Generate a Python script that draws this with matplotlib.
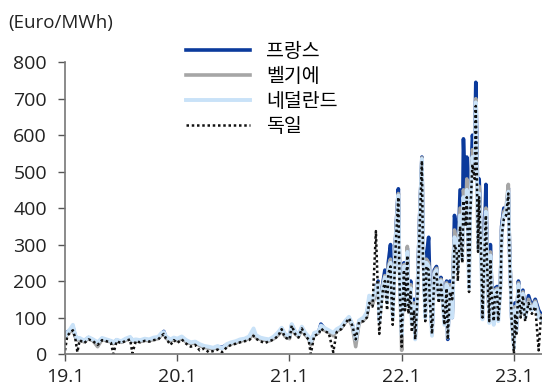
import matplotlib
matplotlib.use("Agg")
import matplotlib.pyplot as plt

plt.rcParams['font.family'] = ['Open Sans', 'Noto Sans CJK KR', 'DejaVu Sans']

# decimal year, France, Belgium, Netherlands, Germany
t = [2019.00, 2019.02, 2019.05, 2019.07, 2019.09, 2019.11, 2019.13, 2019.17, 2019.21, 2019.25,
     2019.29, 2019.33, 2019.37, 2019.41, 2019.43, 2019.46, 2019.50, 2019.54, 2019.58, 2019.60,
     2019.63, 2019.67, 2019.71, 2019.75, 2019.79, 2019.83, 2019.86, 2019.88, 2019.90, 2019.94,
     2019.97, 2020.00, 2020.04, 2020.08, 2020.12, 2020.16, 2020.20, 2020.24, 2020.28, 2020.32,
     2020.36, 2020.40, 2020.44, 2020.48, 2020.52, 2020.56, 2020.60, 2020.64, 2020.68, 2020.70,
     2020.74, 2020.78, 2020.82, 2020.86, 2020.90, 2020.93, 2020.96, 2021.00, 2021.02, 2021.05,
     2021.08, 2021.11, 2021.14, 2021.17, 2021.19, 2021.22, 2021.26, 2021.28, 2021.31, 2021.35,
     2021.39, 2021.42, 2021.46, 2021.50, 2021.53, 2021.56, 2021.59, 2021.62, 2021.66, 2021.69,
     2021.71, 2021.74, 2021.77, 2021.79, 2021.80, 2021.83, 2021.85, 2021.87, 2021.88, 2021.90,
     2021.91, 2021.92, 2021.94, 2021.95, 2021.97, 2021.98, 2022.00, 2022.01, 2022.02, 2022.03,
     2022.05, 2022.06, 2022.08, 2022.09, 2022.11, 2022.12, 2022.14, 2022.16, 2022.18, 2022.19,
     2022.21, 2022.22, 2022.24, 2022.25, 2022.27, 2022.29, 2022.31, 2022.33, 2022.35, 2022.36,
     2022.38, 2022.40, 2022.41, 2022.43, 2022.45, 2022.46, 2022.47, 2022.49, 2022.50, 2022.52,
     2022.54, 2022.55, 2022.57, 2022.58, 2022.60, 2022.61, 2022.63, 2022.65, 2022.66, 2022.68,
     2022.69, 2022.71, 2022.72, 2022.74, 2022.75, 2022.76, 2022.78, 2022.79, 2022.80, 2022.82,
     2022.83, 2022.85, 2022.86, 2022.88, 2022.89, 2022.91, 2022.93, 2022.95, 2022.96, 2022.98,
     2023.00, 2023.01, 2023.02, 2023.04, 2023.06, 2023.08, 2023.10, 2023.13, 2023.16, 2023.19,
     2023.22, 2023.24, 2023.25]

france = [50, 60, 65, 75, 50, 40, 42, 35, 45, 38,
          30, 42, 38, 35, 30, 38, 33, 40, 45, 36,
          38, 35, 40, 38, 42, 45, 55, 62, 45, 38,
          42, 38, 45, 35, 30, 32, 25, 20, 18, 15,
          20, 18, 25, 30, 32, 38, 40, 45, 60, 48,
          42, 40, 38, 45, 55, 70, 50, 45, 80, 60,
          50, 72, 55, 45, 30, 55, 60, 82, 70, 62,
          55, 65, 72, 90, 100, 80, 35, 90, 95, 110,
          150, 140, 175, 200, 100, 190, 230, 160, 250, 300,
          200, 120, 280, 350, 453, 250, 60, 180, 250, 150,
          290, 150, 200, 100, 150, 50, 180, 380, 540, 300,
          120, 270, 320, 200, 60, 230, 240, 170, 210, 180,
          100, 200, 40, 200, 100, 230, 380, 340, 250, 450,
          300, 590, 400, 540, 280, 420, 600, 550, 745, 380,
          480, 300, 100, 350, 465, 280, 90, 300, 200, 100,
          180, 185, 110, 200, 350, 400, 380, 455, 300, 100,
          30, 140, 60, 200, 120, 175, 110, 160, 130, 150,
          120, 110, 105]

belgium = [45, 55, 62, 70, 48, 38, 40, 33, 43, 36,
           20, 40, 36, 33, 28, 36, 32, 38, 42, 35,
           36, 34, 38, 36, 40, 42, 52, 58, 43, 36,
           40, 36, 42, 33, 28, 30, 23, 18, 16, 14,
           18, 16, 22, 28, 30, 35, 38, 42, 55, 45,
           40, 38, 36, 42, 52, 65, 48, 42, 75, 55,
           48, 68, 52, 42, 25, 52, 58, 75, 65, 60,
           50, 62, 70, 88, 95, 75, 20, 85, 92, 105,
           145, 135, 170, 195, 95, 185, 215, 150, 240, 260,
           190, 110, 270, 340, 440, 240, 10, 170, 245, 140,
           295, 140, 190, 90, 140, 45, 170, 370, 538, 290,
           110, 260, 250, 190, 70, 225, 235, 160, 205, 175,
           90, 195, 50, 190, 110, 220, 340, 300, 240, 400,
           280, 450, 380, 480, 200, 400, 560, 520, 700, 300,
           460, 280, 110, 330, 400, 270, 100, 280, 190, 95,
           175, 180, 100, 190, 340, 390, 400, 465, 290, 110,
           20, 130, 70, 195, 115, 170, 105, 150, 125, 145,
           110, 105, 100]

netherlands = [48, 58, 70, 80, 52, 42, 44, 37, 46, 40,
               32, 44, 40, 36, 32, 39, 35, 42, 47, 38,
               40, 38, 42, 40, 45, 47, 58, 60, 48, 40,
               45, 42, 48, 38, 32, 34, 27, 22, 20, 17,
               22, 15, 27, 32, 35, 40, 42, 48, 70, 52,
               45, 42, 40, 48, 60, 72, 55, 48, 82, 62,
               52, 75, 58, 48, 32, 58, 62, 78, 72, 65,
               58, 68, 75, 92, 102, 82, 40, 92, 100, 115,
               160, 150, 180, 190, 90, 180, 210, 140, 230, 250,
               180, 100, 260, 330, 435, 230, 50, 160, 240, 130,
               280, 130, 180, 80, 130, 40, 160, 360, 535, 280,
               100, 250, 240, 180, 50, 220, 230, 150, 200, 170,
               80, 190, 45, 180, 100, 210, 320, 290, 230, 380,
               260, 430, 360, 450, 180, 390, 540, 500, 690, 290,
               440, 260, 95, 310, 390, 260, 85, 270, 180, 80,
               170, 175, 90, 180, 330, 380, 390, 445, 280, 100,
               15, 120, 60, 190, 110, 165, 100, 140, 120, 140,
               100, 100, 95]

germany = [10, 50, 60, 65, 45, 5, 38, 30, 40, 35,
           25, 38, 35, 30, 0, 35, 30, 36, 40, 2,
           35, 32, 36, 34, 38, 40, 50, 55, 42, 25,
           38, 30, 40, 28, 20, 25, 10, 15, 5, 8,
           12, 5, 18, 25, 28, 32, 35, 38, 50, 42,
           35, 30, 35, 40, 50, 68, 45, 40, 78, 55,
           45, 70, 50, 40, 0, 50, 55, 70, 62, 58,
           5, 60, 68, 85, 98, 78, 40, 88, 90, 100,
           140, 130, 337, 150, 55, 170, 200, 120, 220, 240,
           150, 80, 250, 320, 430, 200, 20, 150, 230, 120,
           270, 110, 170, 60, 120, 40, 150, 350, 530, 250,
           90, 240, 230, 150, 55, 210, 220, 140, 190, 160,
           80, 180, 40, 170, 150, 200, 300, 280, 200, 350,
           250, 420, 350, 430, 170, 380, 520, 480, 680, 280,
           430, 250, 100, 300, 380, 250, 90, 260, 170, 90,
           160, 170, 90, 170, 320, 370, 380, 440, 270, 90,
           0, 110, 50, 180, 100, 160, 90, 140, 110, 130,
           10, 100, 90]

x_ticks = [2019, 2020, 2021, 2022, 2023]
x_labels = ['19.1', '20.1', '21.1', '22.1', '23.1']
y_ticks = [0, 100, 200, 300, 400, 500, 600, 700, 800]

fig = plt.figure(figsize=(5.42, 3.89), dpi=100)
ax = fig.add_axes([0.12, 0.09, 0.88, 0.75])

ax.plot(t, france, color='#0B3A9C', lw=2.6, label='프랑스')
ax.plot(t, belgium, color='#A6A6A6', lw=2.6, label='벨기에')
ax.plot(t, netherlands, color='#C9E2F8', lw=2.8, label='네덜란드')
ax.plot(t, germany, color='#111111', lw=1.8, ls=(0, (1, 1.1)), label='독일')

ax.set_xlim(2019.0, 2023.25)
ax.set_ylim(0, 800)
ax.set_xticks(x_ticks)
ax.set_xticklabels(x_labels)
ax.set_yticks(y_ticks)
ax.tick_params(axis='both', labelsize=14, color='#555555', length=5, width=1,
               labelcolor='#222222')
ax.tick_params(axis='y', pad=8)
ax.tick_params(axis='x', pad=5)
for s in ['top', 'right']:
    ax.spines[s].set_visible(False)
for s in ['left', 'bottom']:
    ax.spines[s].set_color('#777777')
    ax.spines[s].set_linewidth(1.2)

fig.text(0.015, 0.94, '(Euro/MWh)', fontsize=13.5, color='#222222', va='center')

leg = fig.legend(loc='upper left', bbox_to_anchor=(0.328, 0.915), frameon=False,
                 prop={'family': ['Noto Sans CJK KR'], 'size': 14},
                 handlelength=3.3, handletextpad=0.85,
                 labelspacing=0.2, borderaxespad=0)

fig.savefig('out.png', dpi=100)
